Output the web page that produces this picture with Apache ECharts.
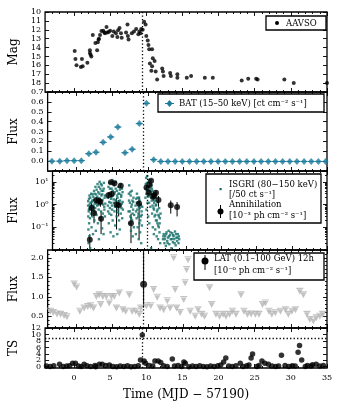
<!DOCTYPE html>
<html><head><meta charset="utf-8">
<script src="https://cdn.jsdelivr.net/npm/echarts@6/dist/echarts.min.js"></script>
<style>html,body{margin:0;padding:0;background:#fff}#c{width:343px;height:409px}</style>
</head><body><div id="c"></div>
<script>
// ---------------- data ----------------
const X_MIN = -4, X_MAX = 35;
const X_TICKS = [0, 5, 10, 15, 20, 25, 30, 35];
const FLARE_T = 9.4;          // vertical dotted line
const TS_LINE = 9;            // horizontal dotted line in TS panel
const BAT_HALF = 0.5;         // half bin width (days)

const AAVSO = [[0.1,14.4],[0.2,15.3],[0.35,16.0],[0.95,16.2],[1.1,15.3],[1.2,16.1],[1.85,15.7],[2.2,14.3],[2.2,14.6],[2.3,14.8],[2.4,15.0],[2.6,12.6],[2.96,13.5],[3.2,14.3],[3.3,13.4],[3.4,13.1],[3.45,13.0],[3.6,12.6],[3.8,12.15],[4.05,12.1],[4.2,12.3],[4.3,12.4],[4.5,11.7],[4.6,12.3],[4.8,12.25],[5.0,12.1],[5.3,12.7],[5.5,12.2],[5.8,12.4],[6.0,12.8],[6.1,12.05],[6.3,11.8],[6.5,12.4],[6.6,12.9],[7.2,12.3],[7.4,11.4],[7.45,12.7],[7.55,13.1],[8.0,12.4],[8.3,12.2],[8.6,11.9],[8.9,12.5],[9.05,12.2],[9.2,12.4],[9.3,11.9],[9.5,12.0],[9.7,11.1],[9.9,11.4],[10.0,12.7],[10.2,13.2],[10.3,13.7],[10.4,14.2],[10.8,14.2],[10.5,15.8],[10.8,16.1],[10.9,15.2],[11.15,15.5],[10.7,16.6],[11.3,16.7],[11.5,17.6],[12.2,16.35],[12.3,16.7],[12.4,17.2],[13.3,16.85],[13.4,17.2],[14.3,17.0],[14.3,17.4],[15.6,17.4],[16.2,17.2],[18.1,17.4],[19.2,17.4],[23.2,17.7],[24.1,17.5],[25.2,17.5],[25.4,17.6],[29.1,17.6],[30.4,18.0],[35.0,18.0]];

const BAT = [[-3.4,0.0],[-2.3,0.0],[-1.3,0.005],[-0.3,0.005],[0.7,0.005],[1.75,0.075],[2.75,0.09],[3.75,0.19],[4.8,0.245],[5.8,0.345],[6.8,0.085],[7.8,0.12],[8.8,0.38],[9.8,0.585],[10.8,0.015],[11.8,-0.003],[12.8,-0.003],[13.8,-0.003],[14.8,-0.003],[15.8,-0.003],[16.8,-0.003],[17.8,-0.003],[18.8,-0.003],[19.8,-0.003],[20.8,-0.003],[21.8,-0.003],[22.8,-0.003],[23.8,-0.003],[24.8,-0.003],[25.8,-0.003],[26.8,-0.003],[27.8,-0.003],[28.8,-0.003],[29.8,-0.003],[30.8,-0.003],[31.8,-0.003],[32.8,-0.003],[33.8,-0.003],[34.8,-0.003]];

const ISGRI = [
 [1.05,0.9],[1.08,0.3],[1.1,0.08],[1.12,0.02],[1.15,0.5],[1.18,1.8],[1.2,0.15],[1.22,0.04],[1.25,2.5],[1.3,0.7],[1.32,0.25],[1.35,0.012],[1.4,1.2],[1.45,0.4],[1.5,3],[1.55,0.1],[1.6,0.6],[1.65,1.5],[1.7,0.3],[1.75,0.05],[1.8,2.2],[1.85,0.8],[1.9,4],[1.95,0.2],[2.0,1.1],[2.05,0.45],[2.1,6],[2.15,0.07],[2.2,2.8],[2.25,0.35],[2.3,1.4],[2.35,0.9],[2.4,8],[2.45,0.15],[2.5,3.5],[2.55,0.6],[2.6,0.03],[2.65,1.9],[2.7,10],[2.75,0.25],[2.8,5],[2.85,1.2],[2.9,0.5],[2.95,2.5],[3.0,7],[3.05,0.09],[3.1,1.6],[3.15,0.4],[3.2,4],[3.25,0.05],[3.3,9],[3.35,0.8],[3.4,2],[3.45,0.3],[3.5,1.1],
 [1.07,1.4],[1.17,0.6],[1.27,1.0],[1.37,2],[1.47,0.8],[1.57,1.3],[1.67,2.8],[1.77,0.9],[1.87,1.6],[1.97,3],[2.07,0.7],[2.17,1.3],[2.27,4.5],[2.37,2.2],[2.47,1.0],[2.57,6],[2.67,3],[2.77,1.5],[2.87,8],[2.97,4],[3.07,2.8],[3.17,1.0],[3.27,5],[3.37,0.6],[3.47,2.5],
 [3.85,2],[3.9,0.5],[3.95,6],[4.0,0.15],[4.05,1.3],[4.1,9],[4.15,0.7],[4.2,3],[4.25,0.06],[4.3,1.8],[4.35,0.35],[4.4,5],[4.45,0.9],[4.5,12],[4.55,0.2],[4.6,2.5],[4.65,0.04],[4.7,1.2],[4.75,7],[4.8,0.5],[4.85,3.5],[4.9,0.12],[4.95,1.6],[5.0,10],[5.05,0.8],[5.1,0.3],[5.15,4],[5.2,0.05],[5.25,2],[5.3,0.6],[5.35,6],[5.4,1],[5.45,0.2],[5.5,3],[5.55,0.08],[5.6,1.5],[5.65,8],[5.7,0.4],[5.75,2.2],[5.8,0.7],[5.85,1.1],[5.9,0.25],[5.95,3.5],[6.0,0.6],
 [3.87,0.9],[3.97,3],[4.07,0.4],[4.17,5],[4.27,1.2],[4.37,2.2],[4.47,0.6],[4.57,4],[4.67,1.7],[4.77,3],[4.87,0.8],[4.97,5],[5.07,1.4],[5.17,2.5],[5.27,0.45],[5.37,3],[5.47,1.3],[5.57,4.5],[5.67,0.9],[5.77,2.6],[5.87,5],[5.97,1.3],
 [6.8,0.5],[6.85,3],[6.9,7],[6.95,0.15],[7.0,1.2],[7.05,0.3],[7.1,2.5],[7.15,0.07],[7.2,0.8],[7.25,4],[7.3,0.2],[7.35,1.5],[7.4,0.04],[7.45,0.6],[7.5,2],[7.55,0.1],[7.6,0.35],[7.8,0.9],[7.85,0.05],[7.9,1.8],[7.95,0.25],[8.0,3],[8.05,0.6],[8.1,0.1],[8.15,1.2],[8.2,0.4],[8.25,0.03],[8.3,2],[8.35,0.15],[8.4,0.7],[8.45,0.06],[8.5,1],[8.55,0.3],[8.6,0.02],[8.65,0.5],[8.7,0.12],[8.75,0.8],
 [6.87,1.5],[6.97,0.5],[7.07,3.5],[7.17,0.25],[7.27,1],[7.37,0.4],[7.47,1.3],[7.87,0.5],[7.97,1.2],[8.07,2],[8.17,0.3],[8.27,0.8],[8.37,1.5],[8.47,0.2],[8.57,0.9],[8.67,0.35],
 [9.2,2],[9.25,8],[9.3,15],[9.35,0.6],[9.4,4],[9.45,18],[9.5,1.2],[9.55,6],[9.6,0.3],[9.65,10],[9.7,2.5],[9.75,0.15],[9.8,12],[9.85,5],[9.9,0.8],[9.95,3],[10.0,0.012],[10.05,7],[10.1,1.5],[10.15,0.4],[10.2,4],[10.25,0.1],[10.3,2],[10.35,0.7],[10.4,0.05],[10.45,1.2],[10.5,0.3],[10.55,3],[10.6,0.08],[10.65,0.9],[10.7,0.2],[10.75,2],[10.8,0.04],[10.85,0.5],[10.9,0.15],[10.95,1.3],[11.0,0.03],[11.05,0.35],[11.1,0.1],[11.15,0.7],[11.2,0.06],[11.25,0.25],[11.3,0.02],[11.35,0.4],
 [9.22,5],[9.32,3],[9.42,9],[9.52,2.5],[9.62,6],[9.72,1.2],[9.82,4],[9.92,8],[10.02,2],[10.12,5],[10.22,0.9],[10.32,3],[10.42,0.6],[10.52,1.5],[10.62,0.35],[10.72,1.0],[10.82,0.2],[10.92,0.6],[11.02,0.12],[11.12,0.3],[11.22,0.15],
 [11.7,0.03],[11.8,0.05],[11.9,0.02],[12.0,0.04],[12.1,0.015],[12.2,0.06],[12.3,0.025],[12.4,0.035],[12.5,0.07],[12.6,0.018],[12.7,0.045],[12.8,0.03],[12.9,0.012],[13.0,0.055],[13.1,0.022],[13.2,0.04],[13.3,0.03],[13.4,0.065],[13.5,0.016],[13.6,0.035],[13.7,0.025],[13.8,0.05],[13.9,0.02],[14.0,0.03],
 [11.75,0.04],[11.95,0.03],[12.15,0.05],[12.35,0.02],[12.55,0.04],[12.75,0.06],[12.95,0.03],[13.15,0.045],[13.35,0.02],[13.55,0.05],[13.75,0.035],[13.95,0.04]
];

// [t, value, low, high]
const ANNIH = [[1.3,0.028,0.012,0.05],[1.55,0.71,0.3,1.2],[1.9,0.43,0.15,0.8],[2.2,1.56,1.0,2.2],[2.6,1.45,0.9,2.0],[2.8,1.3,0.8,1.9],[2.9,0.24,0.05,0.5],[3.95,2.6,1.8,3.5],[4.3,9.5,8,11],[4.4,2.9,2.0,4.0],[4.8,8.6,7,10],[5.1,1.0,0.08,2.0],[5.4,0.93,0.3,1.6],[5.7,6.8,5.5,8],[7.15,0.15,0.02,0.4],[8.3,1.1,0.03,2.2],[9.35,5.7,4,7.5],[9.7,3.3,2,4.5],[9.8,7.2,6,8.5],[10.0,11.2,9.5,13],[10.3,2.2,1.4,3],[10.45,2.6,1.8,3.4],[10.7,3.3,2.5,4.2],[11.05,1.6,0.8,2.4],[12.8,0.93,0.4,1.5],[13.7,0.79,0.3,1.3]];

const LAT_UL = [[-3.6,0.63],[-3.2,0.6],[-2.7,0.56],[-2.2,0.55],[-1.7,0.52],[-1.3,0.49],[-0.3,1.33],[0.05,1.25],[0.5,0.63],[1.1,0.71],[1.6,0.75],[2.0,0.77],[2.4,0.71],[2.8,1.01],[3.2,1.05],[3.4,0.8],[3.7,1.01],[4.2,1.01],[4.6,0.84],[4.9,1.01],[5.3,1.01],[5.6,0.71],[6.0,1.1],[6.5,0.67],[6.9,0.63],[7.4,1.05],[7.8,0.63],[8.3,0.63],[8.8,0.55],[9.0,0.71],[9.8,0.77],[10.4,0.77],[10.8,1.19],[11.3,0.99],[11.7,0.71],[12.2,0.67],[12.7,0.9],[13.1,0.71],[13.6,2.0],[13.8,1.19],[14.0,0.71],[14.5,0.6],[15.0,0.93],[15.2,1.36],[15.4,1.7],[15.6,1.95],[15.9,0.63],[16.6,0.5],[17.0,0.67],[17.5,0.55],[17.9,0.5],[18.6,1.23],[18.9,0.8],[19.5,0.55],[20.0,0.5],[20.5,0.55],[20.9,0.5],[21.4,0.55],[21.8,0.63],[22.3,0.55],[23.0,1.05],[23.4,0.63],[23.9,0.55],[24.4,0.56],[25.0,0.55],[25.5,0.55],[26.0,0.8],[26.4,0.84],[26.9,0.63],[27.3,0.55],[27.8,0.59],[28.5,0.63],[29.2,0.67],[29.6,0.55],[30.1,0.63],[30.6,0.67],[31.2,1.14],[31.7,1.05],[32.2,0.55],[32.6,0.42],[33.1,0.38],[33.5,0.46],[34.0,0.5],[34.4,0.55]];

const LAT_DET = [[9.4,1.32,0.72,2.3]];

const TS = [[-3.8,0.2],[-3.3,0.1],[-2.8,0.3],[-2.0,0.75],[-1.5,0.1],[-1.0,0.2],[-0.6,0.3],[-0.2,1.1],[0.2,1.1],[0.6,0.2],[1.0,0.1],[1.4,0.75],[1.8,0.3],[2.3,0.1],[2.9,0.4],[3.0,0.0],[3.5,0.75],[3.9,0.75],[4.4,0.4],[4.9,0.5],[5.4,0.1],[5.9,0.0],[6.4,0.2],[6.9,0.1],[7.4,0.3],[7.9,0.0],[8.4,0.1],[8.9,0.3],[9.2,2.1],[9.45,9.9],[9.7,1.8],[9.9,1.1],[10.4,0.4],[10.9,0.2],[11.2,1.8],[11.65,1.8],[12.0,1.3],[12.4,0.3],[12.9,0.1],[13.6,2.4],[13.9,0.2],[14.4,0.4],[14.9,0.1],[15.2,1.5],[15.4,1.1],[15.9,0.0],[16.4,0.2],[16.9,0.1],[17.4,0.3],[17.9,0.1],[18.4,0.0],[18.9,0.2],[19.4,0.1],[19.9,0.3],[20.3,0.5],[20.7,1.5],[21.0,2.7],[21.4,0.2],[21.9,0.1],[22.4,0.3],[23.0,1.1],[23.4,0.1],[23.9,0.3],[24.2,0.5],[24.5,2.7],[24.7,4.0],[25.3,0.1],[25.6,0.4],[26.0,1.8],[26.4,1.1],[26.9,0.75],[27.4,0.2],[27.9,0.1],[28.3,0.2],[28.7,3.6],[29.2,0.4],[29.7,0.1],[30.2,0.3],[30.6,0.2],[31.0,4.5],[31.2,6.6],[31.5,2.1],[32.0,0.1],[32.3,0.4],[32.8,0.2],[33.0,0.6],[33.5,0.75],[34.0,0.2],[34.5,0.4]];

// tick labels
const P1_TICKS = [10,11,12,13,14,15,16,17,18,19], P1_LABELS = [10,11,12,13,14,15,16,17,18];
const P2_TICKS = [-0.1,0,0.1,0.2,0.3,0.4,0.5,0.6,0.7], P2_LABELS = [0,0.1,0.2,0.3,0.4,0.5,0.6,0.7];
const P3_TICKS = [0.01,0.1,1,10], P3_LABELS = [0.1,1,10];
const P3_MINOR = [0.02,0.03,0.04,0.05,0.06,0.07,0.08,0.09,0.2,0.3,0.4,0.5,0.6,0.7,0.8,0.9,2,3,4,5,6,7,8,9,20];
const P4_TICKS = [0.5,1.0,1.5,2.0], P4_LABELS = [0.5,1.0,1.5,2.0];
const P4_MINOR = [0.3,0.4,0.6,0.7,0.8,0.9,1.1,1.2,1.3,1.4,1.6,1.7,1.8,1.9,2.1];
const P5_TICKS = [0,2,4,6,8,10,12], P5_LABELS_A = [0,4,8,12], P5_LABELS_B = [2,6,10];

// ---------------- chart ----------------
const FONT = 'DejaVu Serif';
const X_MINOR = [];
for (let v = -3; v <= 34; v++) if (v % 5 !== 0) X_MINOR.push(v);

const GRIDS = [{top:12,height:80},{top:92,height:79},{top:171,height:79},{top:250,height:78},{top:328,height:40}];
const grid = GRIDS.map(g => ({left:43, right:16, top:g.top, height:g.height, show:true, borderColor:'#000', borderWidth:1.3, backgroundColor:'transparent'}));

const AX = [], AY = [];
const tickStyle = {color:'#000', width:0.9};
const labelStyle = {fontFamily:FONT, fontSize:8, color:'#000'};
function xSet(gi, labels, name) {
  const mk = (pos, ticks, len, lab) => ({
    type:'value', gridIndex:gi, position:pos, min:X_MIN, max:X_MAX,
    axisLine:{show:false, onZero:false}, splitLine:{show:false},
    axisTick:{show:true, inside:true, length:len, customValues:ticks, lineStyle:tickStyle},
    axisLabel: lab ? Object.assign({show:true, customValues:X_TICKS, showMinLabel:true, showMaxLabel:true, margin:6}, labelStyle) : {show:false}
  });
  const i = AX.length;
  const main = mk('bottom', X_TICKS, 4, labels);
  if (name) Object.assign(main, {name:name, nameLocation:'middle', nameGap:21, nameTextStyle:{fontFamily:FONT, fontSize:12, color:'#000'}});
  AX.push(main, mk('bottom', X_MINOR, 2, false), mk('top', X_TICKS, 4, false), mk('top', X_MINOR, 2, false));
  return i;
}
function ySet(gi, spec, ticks, minor, labels, fmt, name, extraLabels) {
  const mk = (pos, tk, len, lab) => Object.assign({gridIndex:gi, position:pos, axisLine:{show:false, onZero:false}, splitLine:{show:false},
    axisTick: tk ? {show:true, inside:true, length:len, customValues:tk, lineStyle:tickStyle} : {show:false},
    axisLabel: lab ? Object.assign({show:true, customValues:lab, formatter:fmt, showMinLabel:true, showMaxLabel:true, hideOverlap:false, margin:4}, labelStyle) : {show:false}
  }, spec);
  const i = AY.length;
  const main = mk('left', ticks, 4, labels);
  Object.assign(main, {name:name, nameLocation:'middle', nameRotate:90, nameGap:22, nameTextStyle:{fontFamily:FONT, fontSize:12, color:'#000'}});
  AY.push(main, mk('right', ticks, 4, null));
  if (minor) AY.push(mk('left', minor, 2, null), mk('right', minor, 2, null));
  if (extraLabels) AY.push(mk('left', null, 0, extraLabels));
  return i;
}
const SUP = {'-':'⁻','0':'⁰','1':'¹','2':'²','3':'³','4':'⁴','5':'⁵','6':'⁶','7':'⁷','8':'⁸','9':'⁹'};
const pow10 = v => '10' + String(Math.round(Math.log10(v))).split('').map(c => SUP[c]).join('');

const x0 = xSet(0,false), x1 = xSet(1,false), x2 = xSet(2,false), x3 = xSet(3,false), x4 = xSet(4,true,'Time (MJD − 57190)');
const y0 = ySet(0, {type:'value', min:10, max:19, inverse:true}, P1_TICKS, null, P1_LABELS, v => String(v), 'Mag');
const y1 = ySet(1, {type:'value', min:-0.1, max:0.7}, P2_TICKS, null, P2_LABELS, v => (+v).toFixed(1), 'Flux');
const y2 = ySet(2, {type:'log', logBase:10, min:0.01, max:30}, P3_TICKS, P3_MINOR, P3_LABELS, pow10, 'Flux');
const y3 = ySet(3, {type:'value', min:0.2, max:2.2}, P4_TICKS, P4_MINOR, P4_LABELS, v => (+v).toFixed(1), 'Flux');
const y4 = ySet(4, {type:'value', min:-0.4, max:12.1}, P5_TICKS, null, P5_LABELS_A, v => String(v), 'TS', P5_LABELS_B);

const dotted = {color:'#000', width:1.3, type:[1.3,2.2]};
const vline = {silent:true, symbol:['none','none'], label:{show:false}, lineStyle:dotted, data:[{xAxis:FLARE_T}]};

function hbar(color) {
  return function (p, api) {
    const x = api.value(0), y = api.value(1);
    const a = api.coord([x - BAT_HALF, y]), b = api.coord([x + BAT_HALF, y]);
    return {type:'line', shape:{x1:a[0], y1:a[1], x2:b[0], y2:b[1]}, style:{stroke:color, lineWidth:1}};
  };
}
function vbar(color) {
  return function (p, api) {
    const x = api.value(0);
    const a = api.coord([x, api.value(2)]), b = api.coord([x, api.value(3)]);
    return {type:'line', shape:{x1:a[0], y1:a[1], x2:b[0], y2:b[1]}, style:{stroke:color, lineWidth:1}};
  };
}
const BATC = '#1b7b9c', ISGC = '#126e68', LATG = '#b4b4b4';
const UL_SYMBOL = 'path://M0,0h12v1.6h-12z M1,2.2h10l-5,8.5z';

const series = [
  {type:'scatter', name:'AAVSO', xAxisIndex:x0, yAxisIndex:y0, data:AAVSO, symbolSize:4, itemStyle:{color:'#000'}, markLine:vline},
  {type:'custom', xAxisIndex:x1, yAxisIndex:y1, data:BAT, renderItem:hbar(BATC), clip:true},
  {type:'scatter', name:'BAT', xAxisIndex:x1, yAxisIndex:y1, data:BAT, symbol:'diamond', symbolSize:[6,7], itemStyle:{color:BATC}, markLine:vline},
  {type:'scatter', name:'ISGRI', xAxisIndex:x2, yAxisIndex:y2, data:ISGRI, symbol:'rect', symbolSize:2.4, itemStyle:{color:ISGC}, markLine:vline, clip:true},
  {type:'custom', xAxisIndex:x2, yAxisIndex:y2, data:ANNIH, renderItem:vbar('#000'), clip:true},
  {type:'scatter', name:'Annihilation', xAxisIndex:x2, yAxisIndex:y2, data:ANNIH.map(d => [d[0], d[1]]), symbolSize:6, itemStyle:{color:'#000'}, clip:true},
  {type:'scatter', name:'LAT UL', xAxisIndex:x3, yAxisIndex:y3, data:LAT_UL, symbol:UL_SYMBOL, symbolSize:[7,7], itemStyle:{color:LATG}, markLine:vline},
  {type:'custom', xAxisIndex:x3, yAxisIndex:y3, data:LAT_DET, renderItem:vbar('#000'), clip:true},
  {type:'scatter', name:'LAT', xAxisIndex:x3, yAxisIndex:y3, data:LAT_DET.map(d => [d[0], d[1]]), symbolSize:7, itemStyle:{color:'#000'}},
  {type:'scatter', name:'TS', xAxisIndex:x4, yAxisIndex:y4, data:TS, symbolSize:5.5, itemStyle:{color:'#000'},
    markLine:{silent:true, symbol:['none','none'], label:{show:false}, lineStyle:dotted, data:[{xAxis:FLARE_T},{yAxis:TS_LINE}]}}
];

// legends (drawn as graphic boxes)
const LF = '8.5px "DejaVu Serif"';
const txt = (x, y, s) => ({type:'text', x:x, y:y, z:101, style:{text:s, font:LF, fill:'#000', verticalAlign:'middle'}});
const box = (x, y, w, h) => ({type:'rect', z:100, shape:{x:x, y:y, width:w, height:h}, style:{fill:'#fff', stroke:'#000', lineWidth:1.3}});
const graphic = [
  box(266,16,60,14),
  {type:'circle', z:101, shape:{cx:277, cy:23, r:2}, style:{fill:'#000'}},
  txt(286,23.5,'AAVSO'),

  box(158,94,166,18),
  {type:'line', z:101, shape:{x1:165, y1:103.5, x2:174, y2:103.5}, style:{stroke:BATC, lineWidth:1}},
  {type:'polygon', z:101, shape:{points:[[169.5,100],[172.5,103.5],[169.5,107],[166.5,103.5]]}, style:{fill:BATC}},
  txt(179,103.5,'BAT (15–50 keV) [ct cm⁻² s⁻¹]'),

  box(206,174,115,49),
  {type:'rect', z:101, shape:{x:219.5, y:188, width:2.2, height:2.2}, style:{fill:ISGC}},
  txt(229,185,'ISGRI (80−150 keV)'),
  txt(229,195,'[/50 ct s⁻¹]'),
  {type:'line', z:101, shape:{x1:220.5, y1:205, x2:220.5, y2:218}, style:{stroke:'#000', lineWidth:1}},
  {type:'circle', z:101, shape:{cx:220.5, cy:211.5, r:3}, style:{fill:'#000'}},
  txt(229,205,'Annihilation'),
  txt(229,215.5,'[10⁻³ ph cm⁻² s⁻¹]'),

  box(194,253,130,27),
  {type:'line', z:101, shape:{x1:205, y1:255, x2:205, y2:270}, style:{stroke:'#000', lineWidth:1}},
  {type:'circle', z:101, shape:{cx:205, cy:261, r:3.5}, style:{fill:'#000'}},
  txt(214,259,'LAT (0.1–100 GeV) 12h'),
  txt(214,271,'[10⁻⁶ ph cm⁻² s⁻¹]')
];

const chart = echarts.init(document.getElementById('c'), null, {renderer:'canvas'});
chart.setOption({animation:false, backgroundColor:'#fff', grid:grid, xAxis:AX, yAxis:AY, series:series, graphic:graphic});
</script></body></html>
